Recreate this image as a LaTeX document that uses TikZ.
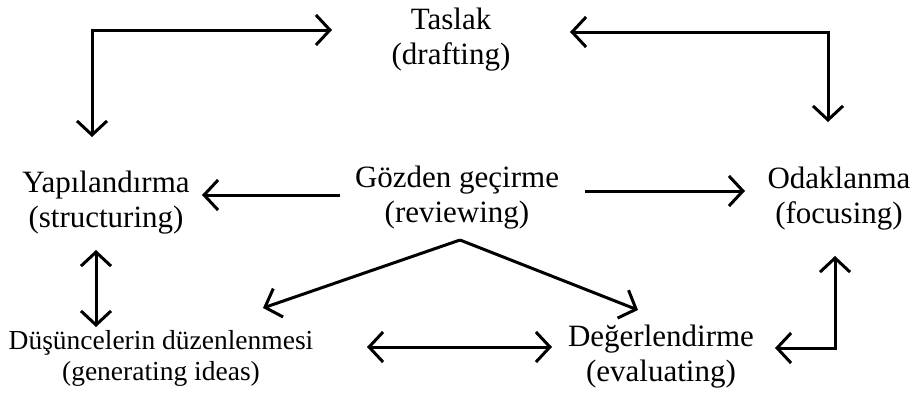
\documentclass[tikz,border=0pt]{standalone}
\usepackage{fontspec}
\setmainfont{Liberation Serif}
\usetikzlibrary{arrows.meta}
\begin{document}
\begin{tikzpicture}[x=1pt,y=-1pt,
  lbl/.style={align=center,inner sep=0pt,anchor=base,font=\fontsize{31}{35}\selectfont},
  lblsm/.style={align=center,inner sep=0pt,anchor=base,font=\fontsize{27.5}{31}\selectfont},
  arr/.style={line width=3pt,-{Straight Barb[length=14pt,width=30pt]}},
  darr/.style={line width=3pt,{Straight Barb[length=14pt,width=30pt]}-{Straight Barb[length=14pt,width=30pt]}}]
\useasboundingbox[fill=white] (0,0) rectangle (915,394);
\node[lbl] (tas) at (451,64) {Taslak\\(drafting)};
\node[lbl] (goz) at (457,222) {Gözden geçirme\\(reviewing)};
\node[lbl] (yap) at (106,227) {Yapılandırma\\(structuring)};
\node[lbl] (oda) at (839,223) {Odaklanma\\(focusing)};
\node[lblsm] (dus) at (161,380) {Düşüncelerin düzenlenmesi\\(generating ideas)};
\node[lbl] (deg) at (661,381) {Değerlendirme\\(evaluating)};
% connector coordinates
\coordinate (tlA) at (92,137);
\coordinate (tlB) at (332,30);
\coordinate (trA) at (570,32);
\coordinate (trB) at (828,122);
\coordinate (gL0) at (340,195);
\coordinate (gL1) at (202,195);
\coordinate (gR0) at (585,191);
\coordinate (gR1) at (745,191);
\coordinate (peak) at (460,240);
\coordinate (dusT) at (263,308);
\coordinate (degT) at (638,310);
\coordinate (yapB) at (96,250);
\coordinate (dusU) at (96,327);
\coordinate (dusR) at (367,347);
\coordinate (degL) at (552,347);
\coordinate (degR) at (775,348);
\coordinate (odaB) at (835,256);
\draw[darr] (tlA) |- (tlB);
\draw[darr] (trA) -| (trB);
\draw[arr] (gL0) -- (gL1);
\draw[arr] (gR0) -- (gR1);
\draw[arr] (peak) -- (dusT);
\draw[arr] (peak) -- (degT);
\draw[darr] (yapB) -- (dusU);
\draw[darr] (dusR) -- (degL);
\draw[darr] (degR) -| (odaB);
\end{tikzpicture}
\end{document}
